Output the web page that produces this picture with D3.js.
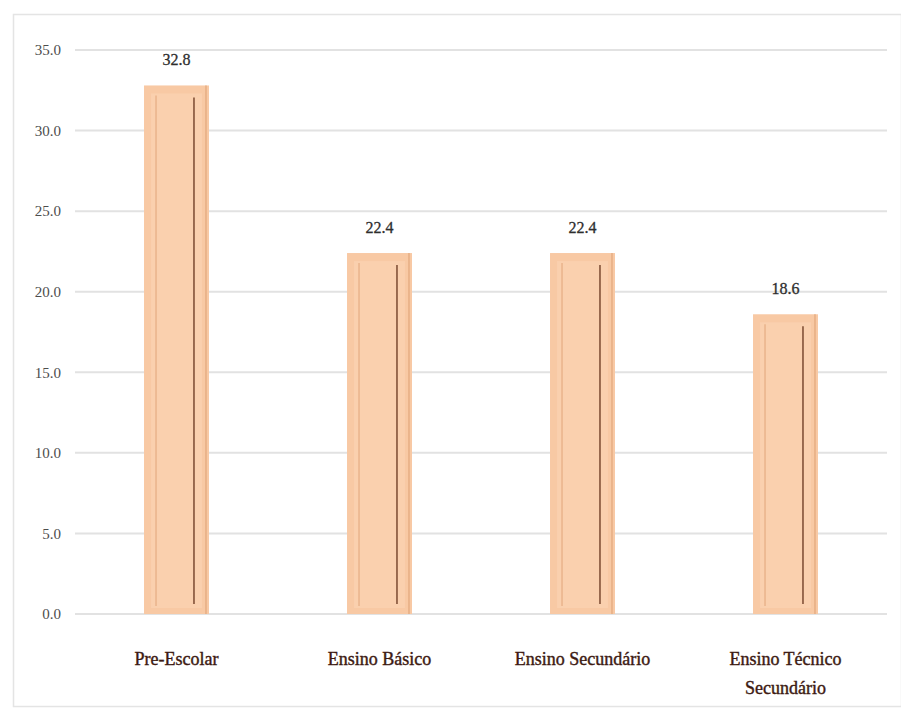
<!DOCTYPE html>
<html><head><meta charset="utf-8">
<script src="https://cdn.jsdelivr.net/npm/d3@7"></script>
<style>body{margin:0;background:#fff}</style>
</head><body>
<svg id="c" width="901" height="708"></svg>
<script>
const categories = ["Pre-Escolar", "Ensino Básico", "Ensino Secundário", "Ensino Técnico\nSecundário"];
const values = [32.8, 22.4, 22.4, 18.6];
const yTicks = [0, 5, 10, 15, 20, 25, 30, 35];

const svg = d3.select("#c");
const margin = {left: 75, right: 14, top: 50, bottom: 94};
const W = 901, H = 708;
svg.append("rect").attr("x", 13.5).attr("y", 14.5).attr("width", W - 13).attr("height", H - 16)
  .attr("fill", "#fff").attr("stroke", "#e4e4e4").attr("stroke-width", 1.5);

const x = d3.scaleBand().domain(categories).range([margin.left, W - margin.right]).paddingInner(0.68).paddingOuter(0.34);
const y = d3.scaleLinear().domain([0, 35]).range([H - margin.bottom, margin.top]);

const g = svg.append("g");
g.selectAll("line.grid").data(yTicks).enter().append("line")
  .attr("x1", margin.left).attr("x2", W - margin.right)
  .attr("y1", d => y(d)).attr("y2", d => y(d))
  .attr("stroke", "#e2e2e2").attr("stroke-width", 2);

const yAxis = d3.axisLeft(y).tickValues(yTicks).tickFormat(d3.format(".1f")).tickSize(0).tickPadding(14);
const ya = svg.append("g").attr("transform", `translate(${margin.left},0)`).call(yAxis);
ya.select(".domain").remove();
ya.selectAll("text").attr("font-family", "Liberation Serif, serif").attr("font-size", 15).attr("fill", "#4d4d4d");

const bars = g.selectAll("g.bar").data(values).enter().append("g");
bars.append("rect")
  .attr("x", (d, i) => x(categories[i])).attr("width", x.bandwidth())
  .attr("y", d => y(d)).attr("height", d => y(0) - y(d))
  .attr("fill", "#F8C9A4");
bars.append("rect")
  .attr("x", (d, i) => x(categories[i]) + 7).attr("width", x.bandwidth() - 14)
  .attr("y", d => y(d) + 8).attr("height", d => y(0) - y(d) - 14)
  .attr("fill", "#FAD0AE");
bars.append("line")
  .attr("x1", (d, i) => x(categories[i]) + 12).attr("x2", (d, i) => x(categories[i]) + 12)
  .attr("y1", d => y(d) + 10).attr("y2", y(0) - 8)
  .attr("stroke", "#E9B48C").attr("stroke-width", 1.5);
bars.append("line")
  .attr("x1", (d, i) => x(categories[i]) + x.bandwidth() - 15).attr("x2", (d, i) => x(categories[i]) + x.bandwidth() - 15)
  .attr("y1", d => y(d) + 12).attr("y2", y(0) - 10)
  .attr("stroke", "#7a4a30").attr("stroke-width", 1.5);
bars.append("line")
  .attr("x1", (d, i) => x(categories[i]) + x.bandwidth() - 3).attr("x2", (d, i) => x(categories[i]) + x.bandwidth() - 3)
  .attr("y1", d => y(d)).attr("y2", y(0))
  .attr("stroke", "#E6AE84").attr("stroke-width", 1.5);

bars.append("text")
  .attr("x", (d, i) => x(categories[i]) + x.bandwidth() / 2)
  .attr("y", d => y(d) - 20)
  .attr("text-anchor", "middle")
  .attr("font-family", "Liberation Serif, serif").attr("font-size", 16).attr("fill", "#2e2e2e")
  .attr("stroke", "#2e2e2e").attr("stroke-width", 0.3)
  .text(d => d.toFixed(1));

const xa = svg.append("g");
categories.forEach(c => {
  const lines = c.split("\n");
  const t = xa.append("text")
    .attr("x", x(c) + x.bandwidth() / 2).attr("y", y(0) + 51)
    .attr("text-anchor", "middle")
    .attr("font-family", "Liberation Serif, serif").attr("font-size", 18).attr("fill", "#3d1a12")
    .attr("stroke", "#3d1a12").attr("stroke-width", 0.4);
  lines.forEach((l, k) => t.append("tspan").attr("x", x(c) + x.bandwidth() / 2).attr("dy", k ? 29 : 0).text(l));
});
</script>
</body></html>
